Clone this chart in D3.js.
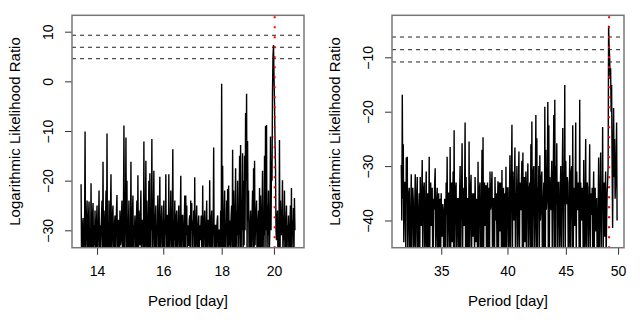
<!DOCTYPE html>
<html>
<head>
<meta charset="utf-8">
<script src="https://cdn.jsdelivr.net/npm/d3@7"></script>
<style>
  body { margin: 0; background: #fff; }
  svg { display: block; font-family: "Liberation Sans", Arial, sans-serif; }
</style>
</head>
<body>
<svg id="chart" width="640" height="320"></svg>
<script>
// left panel: period range covered by the samples and the sample values
const leftPeriods = [13.556, 20.865];
const leftValues = [
  -20.7,-36,-34,-29,-27.5,-36,-33,-30,-10.1,-36,-31,-28,-24,-36,-34,-27,-24.2,-36,-30,-35,
  -20.5,-36,-35,-27,-24.5,-36,-29,-33,-26,-36,-34,-28,-25,-36,-31,-29,-22,-36,-29,-34,
  -30,-27,-24,-36,-16.2,-36,-26,-31,-35,-28,-22,-36,-10.5,-36,-29,-34,-24,-36,-34,-26,
  -18.7,-36,-31,-27,-25,-36,-34,-29,-27,-36,-30,-26,-22.9,-36,-35,-28,-28,-36,-26,-33,
  -32,-27,-24,-36,-34,-26,-8.9,-36,-30,-28,-11.3,-36,-20,-36,-33,-29,-24,-36,-30,-34,
  -16.2,-36,-34,-27,-23,-36,-29,-31,-27,-36,-35,-28,-24,-36,-18.9,-36,-26,-31,-33,-27,
  -22,-36,-31,-28,-28,-36,-12.1,-36,-33,-27,-16,-36,-24,-32,-35,-29,-20,-36,-18.5,-36,
  -26,-30,-11.6,-36,-31,-27,-18,-36,-34,-28,-25,-36,-29,-31,-23,-36,-35,-27,-19.2,-36,
  -30,-28,-25,-36,-34,-29,-24,-36,-28,-31,-18.7,-36,-33,-27,-27,-36,-18.7,-36,-31,-29,
  -22,-36,-34,-28,-13.7,-36,-29,-32,-24,-36,-33,-27,-26,-36,-31,-29,-25,-36,-35,-28,
  -19,-36,-30,-27,-27,-36,-34,-29,-23,-36,-23,-31,-25,-36,-29,-33,-33,-28,-27,-36,
  -24,-30,-24.5,-36,-28,-31,-26,-36,-19.3,-36,-32,-28,-25,-36,-34,-29,-27,-36,-29,-32,
  -30,-27,-33,-36,-21,-36,-30,-28,-26,-36,-35,-29,-24,-36,-31,-28,-28,-36,-19.9,-36,
  -34,-28,-26,-36,-30,-31,-13.3,-36,-33,-29,-29,-36,-31,-28,-27,-36,-35,-30,-30,-36,
  -26,-36,-0.5,-36,-17,-36,-33,-28,-22,-36,-29,-31,-24,-36,-21.7,-36,-21,-33,-28,-36,
  -31,-27,-25,-36,-13.8,-36,-22,-30,-34,-27,-17.5,-36,-26,-31,-20,-36,-30,-27,-15,-36,
  -12.8,-36,-24,-30,-14.5,-36,-20,-33,-15,-30,-6.4,-20,-2.5,-36,-12,-28,-22,-36,-35,-29,
  -26,-36,-31,-27,-22,-36,-17.5,-36,-16,-33,-29,-27,-24,-36,-33,-28,-26,-36,-21.5,-36,
  -23,-30,-34,-27,-18,-36,-28,-31,-15,-36,-9,-30,-8.8,-36,-25,-31,-22,-36,-33,-28,
  -11.1,-30,-16,-20,-2,5,7.3,1,-4,-12,-17,-30,-32,-28,-26,-36,-35,-30,-11.8,-36,
  -24,-30,-31,-28,-19.9,-36,-27,-32,-22,-36,-34,-28,-25,-36,-29,-31,-27,-36,-33,-29,
  -25,-36,-21.5,-36,-28,-31,-25.5,-36,-23.5,-30
];
const leftThresholds = [9.28, 6.86, 4.56];
const leftBest = 20.03;
const leftXTicks = [14, 16, 18, 20];
const leftYTicks = [-30, -20, -10, 0, 10];
const leftXDomain = [13.31, 21.25];
const leftYDomain = [-33.5, 13.3];

// right panel
const rightPeriods = [32.29, 49.9];
const rightValues = [
  -29.8,-40,-16.9,-36,-26,-44,-38,-33,-33,-47,-28.4,-36,-28.3,-47,-40,-35,-34,-47,-46,-38,
  -31.5,-47,-38,-34,-36.2,-47,-44,-37,-31.5,-47,-40,-35,-32,-47,-46,-38,-35,-47,-32,-40,
  -41,-35,-28.9,-47,-37,-34,-33,-47,-44,-36,-31,-47,-39,-35,-46,-40,-28.3,-47,-36,-33,
  -41,-37,-34,-47,-46,-36,-38,-33,-30.4,-47,-42,-36,-34,-47,-39,-35,-46,-38,-36,-47,
  -35,-40,-43,-37,-38,-47,-46,-36,-38.5,-47,-33,-39,-28.3,-47,-40,-35,-35,-47,-26.5,-47,
  -37,-33,-44,-38,-31,-47,-23.4,-47,-38,-34,-33,-47,-42,-36,-36,-47,-46,-35,-30,-47,
  -38,-34,-25.8,-47,-34,-38,-41,-35,-22,-47,-32,-38,-46,-36,-36,-47,-25.5,-47,-40,-34,
  -31.6,-47,-35,-38,-43,-35,-37,-47,-32,-38,-44,-36,-37.5,-47,-29.2,-47,-39,-34,-33,-47,
  -46,-36,-27,-47,-24.7,-47,-36,-33,-41,-36,-33.5,-47,-38,-33,-46,-37,-34,-47,-31,-38,
  -37,-34,-31,-47,-44,-36,-36,-47,-32,-38,-40,-35,-46,-37,-32.8,-47,-37,-33,-42,-36,
  -33,-47,-30.7,-47,-38,-34,-46,-36,-35,-47,-30.1,-47,-39,-34,-34,-47,-44,-36,-28,-47,
  -36,-32,-22.4,-47,-31,-38,-40,-33,-26.6,-47,-35,-38,-30,-47,-42,-34,-27.3,-47,-33,-38,
  -38,-33,-29,-47,-27.5,-47,-36,-32,-44,-36,-31,-47,-37,-33,-29.5,-47,-40,-34,-33,-47,
  -26,-47,-21.8,-47,-35,-31,-30,-47,-41,-34,-20.6,-47,-24.9,-47,-34,-37,-30,-47,-28,-40,
  -38,-32,-31,-47,-45,-36,-33,-47,-19.1,-47,-27,-38,-36,-33,-18.2,-47,-22.5,-47,-32,-38,
  -38,-33,-29,-47,-35,-31,-20.6,-47,-17.8,-47,-30,-37,-25.8,-47,-38,-33,-33,-47,-42,-35,
  -30,-47,-36,-31,-23,-47,-31,-37,-15.1,-47,-29,-36,-37,-32,-33,-47,-44,-36,-28,-47,
  -36,-31,-30,-47,-22.5,-47,-34,-38,-41,-33,-22,-47,-31,-38,-38,-33,-35,-47,-17.8,-47,
  -33,-38,-40,-34,-36,-47,-28.9,-47,-44,-35,-25,-47,-38,-33,-34,-47,-41,-35,-26,-47,
  -35,-38,-39,-34,-46,-37,-31,-47,-38,-34,-42,-36,-36,-47,-46,-38,-28.4,-47,-40,-34,
  -27.5,-47,-35,-38,-22.8,-47,-38,-33,-43,-36,-31,-47,-40,-35,-33,-30,-4.2,-8,-10,-14,
  -12,-20,-15.1,-30,-41.4,-28,-19.3,-32,-25,-36,-33,-29,-22,-40
];
const rightThresholds = [-6.27, -8.6, -10.86];
const rightBest = 49.1;
const rightXTicks = [35, 40, 45, 50];
const rightYTicks = [-40, -30, -20, -10];
const rightXDomain = [31.69, 50.6];
const rightYDomain = [-45, -2.28];

const svg = d3.select("#chart");
svg.append("rect").attr("width", 640).attr("height", 320).attr("fill", "#fff");

function drawPanel(offsetX, id, periods, values, thresholds, best, xTicks, yTicks, xDomain, yDomain) {
  const left = offsetX + 72, right = offsetX + 304, top = 15.3, bottom = 247.7;
  const x = d3.scaleLog().domain(xDomain).range([left, right]);
  const y = d3.scaleLinear().domain(yDomain).range([bottom, top]);
  // sample index -> pixel, spread over the period range on the log axis
  const xi = d3.scaleLinear().domain([0, values.length - 1]).range([x(periods[0]), x(periods[1])]);

  svg.append("clipPath").attr("id", id)
    .append("rect").attr("x", left).attr("y", top).attr("width", right - left).attr("height", bottom - top);

  const g = svg.append("g").attr("clip-path", `url(#${id})`);

  const line = d3.line()
    .x((d, i) => xi(i))
    .y(d => y(d));

  g.append("path")
    .datum(values)
    .attr("fill", "none")
    .attr("stroke", "#000")
    .attr("stroke-width", 1.4)
    .attr("d", line);

  g.selectAll(".thr")
    .data(thresholds)
    .enter().append("line")
    .attr("x1", left).attr("x2", right)
    .attr("y1", d => y(d)).attr("y2", d => y(d))
    .attr("stroke", "#222")
    .attr("stroke-width", 1)
    .attr("stroke-dasharray", "4,4");

  g.append("line")
    .attr("x1", x(best)).attr("x2", x(best))
    .attr("y1", top + 1).attr("y2", bottom)
    .attr("stroke", "#ff0000")
    .attr("stroke-width", 2)
    .attr("stroke-dasharray", "2,8");

  // x axis
  const xa = svg.append("g")
    .attr("transform", `translate(0,${bottom})`)
    .call(d3.axisBottom(x).tickValues(xTicks).tickFormat(d3.format("d")).tickSize(7).tickPadding(11));
  xa.select(".domain").remove();
  xa.selectAll("line").attr("stroke", "#333");
  xa.selectAll("text").attr("font-size", 14).attr("fill", "#000").attr("font-family", "Liberation Sans, Arial, sans-serif");

  // y axis
  const ya = svg.append("g")
    .attr("transform", `translate(${left},0)`)
    .call(d3.axisLeft(y).tickValues(yTicks).tickFormat(d3.format("d")).tickSize(7));
  ya.select(".domain").remove();
  ya.selectAll("line").attr("stroke", "#333");
  ya.selectAll("text")
    .attr("x", null).attr("dy", null)
    .attr("transform", "translate(-19,0) rotate(-90)")
    .attr("text-anchor", "middle")
    .attr("font-size", 14).attr("fill", "#000").attr("font-family", "Liberation Sans, Arial, sans-serif");

  // box
  svg.append("rect")
    .attr("x", left).attr("y", top).attr("width", right - left).attr("height", bottom - top)
    .attr("fill", "none").attr("stroke", "#777").attr("stroke-width", 1.5);

  svg.append("text")
    .attr("x", (left + right) / 2).attr("y", 306)
    .attr("text-anchor", "middle").attr("font-size", 15)
    .text("Period [day]");

  svg.append("text")
    .attr("transform", `translate(${offsetX + 20},${(top + bottom) / 2}) rotate(-90)`)
    .attr("text-anchor", "middle").attr("font-size", 15)
    .text("Logarithmic Likelihood Ratio");
}

drawPanel(0, "clipL", leftPeriods, leftValues, leftThresholds, leftBest, leftXTicks, leftYTicks, leftXDomain, leftYDomain);
drawPanel(320, "clipR", rightPeriods, rightValues, rightThresholds, rightBest, rightXTicks, rightYTicks, rightXDomain, rightYDomain);
</script>
</body>
</html>
